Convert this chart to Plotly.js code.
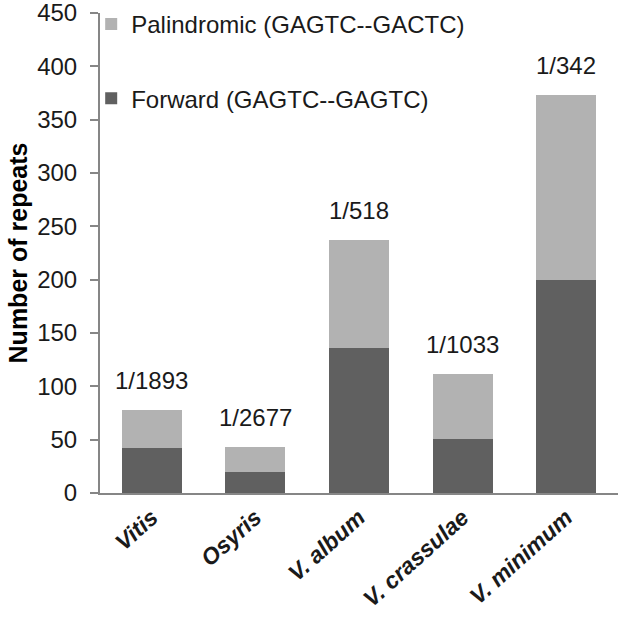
<!DOCTYPE html>
<html>
<head>
<meta charset="utf-8">
<script src="https://cdn.plot.ly/plotly-3.0.1.min.js"></script>
<style>html,body{margin:0;padding:0;background:#fff;}#chart{width:633px;height:622px;}</style>
</head>
<body>
<div id="chart"></div>
<script>
const categories = ['<b><i>Vitis</i></b>', '<b><i>Osyris</i></b>', '<b><i>V. album</i></b>', '<b><i>V. crassulae</i></b>', '<b><i>V. minimum</i></b>'];
const forward = [42, 20, 136, 51, 200];
const palindromic = [36, 23, 101, 61, 173];
const ratioLabels = ['1/1893', '1/2677', '1/518', '1/1033', '1/342'];

const FONT = 'Arial, "Liberation Sans", sans-serif';
const totals = forward.map((f, i) => f + palindromic[i]);

const traces = [
  {
    type: 'bar', name: 'Forward (GAGTC--GAGTC)', x: categories, y: forward,
    marker: {color: '#606060'}, legendgroup: 'f', legendrank: 2, hoverinfo: 'skip'
  },
  {
    type: 'bar', name: 'Palindromic (GAGTC--GACTC)', x: categories, y: palindromic,
    marker: {color: '#b2b2b2'}, legendgroup: 'p', legendrank: 1, hoverinfo: 'skip'
  }
];

const annotations = categories.map((c, i) => ({
  x: c, y: totals[i], xref: 'x', yref: 'y', text: ratioLabels[i],
  showarrow: false, yanchor: 'bottom', yshift: 14,
  font: {family: FONT, size: 24, color: '#1a1a1a'}
}));

const layout = {
  width: 633, height: 622,
  margin: {l: 100, r: 15, t: 13, b: 129, autoexpand: false},
  paper_bgcolor: '#fff', plot_bgcolor: '#fff',
  barmode: 'stack', bargap: 0.42,
  font: {family: FONT, size: 24, color: '#1a1a1a'},
  showlegend: true,
  legend: {
    x: -0.017, y: 1.023, xanchor: 'left', yanchor: 'top',
    traceorder: 'grouped', tracegroupgap: 40,
    font: {family: FONT, size: 24, color: '#1a1a1a'},
    bgcolor: 'rgba(0,0,0,0)'
  },
  xaxis: {
    type: 'category', showline: true, linecolor: '#868686', linewidth: 2,
    ticks: '', tickangle: -42, showgrid: false,
    tickfont: {family: FONT, size: 23, color: '#1a1a1a'}
  },
  yaxis: {
    range: [0, 450], dtick: 50, showline: true, linecolor: '#868686', linewidth: 2,
    ticks: 'outside', ticklen: 8, tickcolor: '#868686', tickwidth: 2,
    ticklabelstandoff: 8, ticklabeloverflow: 'allow',
    showgrid: false, zeroline: false,
    tickfont: {family: FONT, size: 24, color: '#1a1a1a'},
    title: {text: '<b>Number of repeats</b>', font: {family: FONT, size: 25, color: '#000'}, standoff: 2}
  },
  annotations: annotations
};

Plotly.newPlot('chart', traces, layout, {displayModeBar: false, staticPlot: true});
</script>
</body>
</html>
